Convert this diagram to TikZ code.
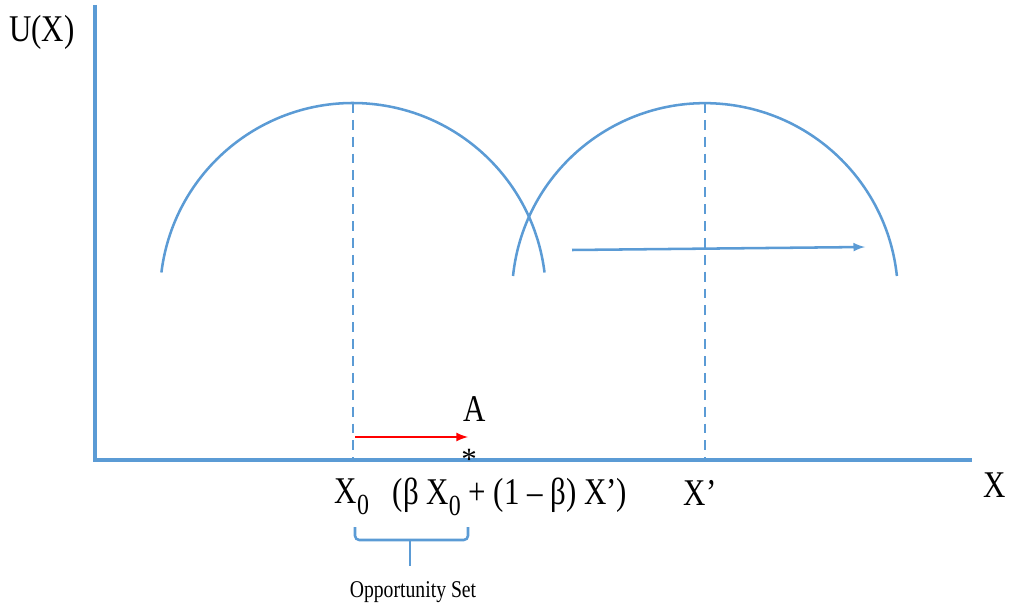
\documentclass[tikz,border=0pt]{standalone}
\usepackage{fontspec}
\setmainfont{Liberation Serif}
\usepackage{tikz}
\usetikzlibrary{positioning}
\usepackage{xcolor}
\definecolor{curveblue}{RGB}{91,155,213}
\newcommand{\tall}[1]{\scalebox{1}[1.22]{#1}}
\newcommand{\sub}[1]{\raisebox{-0.28em}{\fontsize{17}{19}\selectfont #1}}

\begin{document}
\begin{tikzpicture}[x=0.025cm, y=0.025cm, >=latex, every node/.style={font=\fontsize{22}{26}\selectfont, inner sep=1pt}]
\useasboundingbox (0,0) rectangle (1010,606);

% Axes
\coordinate (origin) at (95,146);
\coordinate (ytop) at (95,601);
\coordinate (xend) at (972,146);
\draw[curveblue, line width=2.2pt] (ytop) -- (origin) -- (xend);
\node at (42,574) (ulabel) {\tall{U(X)}};
\node at (995,121) (xlabel) {\tall{X}};

% Utility curves
\draw[curveblue, line width=1.8pt] (161.4,333.5) arc[start angle=173, end angle=7, radius=193];
\draw[curveblue, line width=1.8pt] (513,330) arc[start angle=174, end angle=6, radius=193];

% Peaks
\coordinate (top1) at (353,503);
\coordinate (base1) at (353,146);
\coordinate (top2) at (705,503);
\coordinate (base2) at (705,146);
\draw[curveblue, line width=1.3pt, dash pattern=on 7pt off 5pt] (top1) -- (base1);
\draw[curveblue, line width=1.3pt, dash pattern=on 7pt off 5pt] (top2) -- (base2);

% Shift of the curve
\coordinate (shiftstart) at (572,356);
\coordinate (shiftend) at (865,359);
\draw[-{latex[scale=1.2]}, curveblue, line width=1.8pt] (shiftstart) -- (shiftend);

% Move towards A
\coordinate (redstart) at (355,169);
\coordinate (redend) at (468,169);
\draw[-{latex[scale=1.2]}, red, line width=1.8pt] (redstart) -- (redend);
\node at (475,197) (alabel) {\tall{A}};
\node[inner sep=0pt] at (469,147) (star) {\fontsize{22}{24}\selectfont *};

% Labels under the axis
\node at (352,109) (x0) {\tall{X\sub{0}}};
\node at (510,109) (mix) {\tall{(β X\sub{0} + (1 – β) X’)}};
\node at (700,113) (xprime) {\tall{X’}};

% Opportunity set
\coordinate (bl) at (355,79);
\coordinate (br) at (468,79);
\coordinate (stemtop) at (410,66);
\coordinate (stembot) at (410,40);
\draw[curveblue, line width=1.8pt, rounded corners=3pt] (bl) -- (355,66) -- (468,66) -- (br);
\draw[curveblue, line width=1.8pt] (stemtop) -- (stembot);
\node at (413,14) (oppset) {\fontsize{14}{16}\selectfont\tall{Opportunity Set}};

\end{tikzpicture}
\end{document}
